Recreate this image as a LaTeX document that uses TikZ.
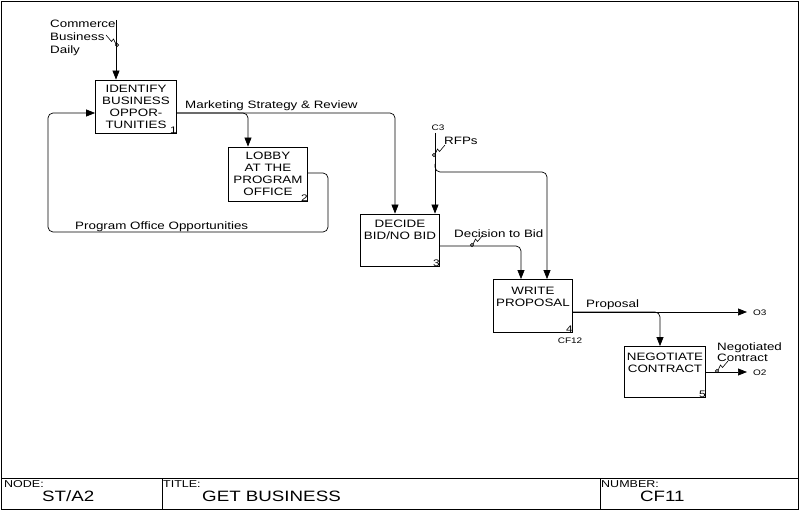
\documentclass[tikz,border=0pt]{standalone}
\usepackage{fontspec}
\setmainfont[FakeStretch=1.25]{Liberation Sans}
\usetikzlibrary{arrows.meta}
\tikzset{
  box/.style={draw, line width=0.8pt, align=center, inner sep=0pt,
    font=\fontsize{10.7}{12}\selectfont},
  lbl/.style={inner sep=0pt, anchor=west, align=left,
    font=\fontsize{10.7}{9.5}\selectfont},
  tiny/.style={inner sep=0pt, font=\fontsize{8}{9}\selectfont},
  num/.style={inner sep=0pt, anchor=south east, font=\fontsize{9.5}{10}\selectfont},
  arr/.style={line width=0.7pt, rounded corners=5, -{Triangle[length=9pt,width=7pt]}},
  squig/.pic={\draw[line width=0.6pt] (0,0) circle (1.6)
    (1.2,-1.2) -- (3.5,-6) -- (5.5,-3.5) -- (11,-10);}
}
\begin{document}
\begin{tikzpicture}[x=1pt, y=-1pt]
\useasboundingbox (0,0) rectangle (800,510);
% frame and title block
\draw[line width=0.9pt] (1.5,1.5) rectangle (798,509);
\draw[line width=0.9pt] (1.5,478) -- (798,478);
\draw[line width=0.9pt] (162,478) -- (162,509) (600,478) -- (600,509);
\node[tiny, anchor=west, font=\fontsize{10}{11}\selectfont] (tn) at (4,484) {NODE:};
\node[tiny, anchor=west, font=\fontsize{10}{11}\selectfont] (tt) at (163,484) {TITLE:};
\node[tiny, anchor=west, font=\fontsize{10}{11}\selectfont] (tr) at (601,484) {NUMBER:};
\node[tiny, anchor=west, font=\fontsize{15}{16}\selectfont] (vn) at (42,496) {ST/A2};
\node[tiny, anchor=west, font=\fontsize{15}{16}\selectfont] (vt) at (202,496) {GET BUSINESS};
\node[tiny, anchor=west, font=\fontsize{15}{16}\selectfont] (vr) at (640,496) {CF11};

% activities
\node[box, minimum width=81, minimum height=53] (b1) at (136,106.5) {IDENTIFY\\BUSINESS\\OPPOR-\\TUNITIES};
\node[box, minimum width=79, minimum height=54] (b2) at (268,174) {LOBBY\\AT THE\\PROGRAM\\OFFICE};
\node[box, minimum width=79, minimum height=52, text depth=20pt] (b3) at (400,240) {DECIDE\\BID/NO BID};
\node[box, minimum width=79, minimum height=53, text depth=18pt] (b4) at (533,306) {WRITE\\PROPOSAL};
\node[box, minimum width=81, minimum height=51, text depth=18pt] (b5) at (665,372) {NEGOTIATE\\CONTRACT};
\node[num] (n1) at (b1.south east) {1};
\node[num] (n2) at (b2.south east) {2};
\node[num] (n3) at (b3.south east) {3};
\node[num] (n4) at (b4.south east) {4};
\node[num] (n5) at (b5.south east) {5};
\node[tiny] (cf12) at (570,341) {CF12};

% rows of the arrows
\coordinate (mrow) at (0,113);
\coordinate (rp) at (328,173);
\coordinate (lp) at (48,232);
\coordinate (drow) at (0,246);
\coordinate (cbd) at (116,20);
\coordinate (c3) at (435,133);
\coordinate (rfb) at (435,172);
\coordinate (o3) at (747,312);
\coordinate (o2) at (747,372);

% connectors
\draw[arr] (cbd) -- (cbd |- b1.north);
\draw[arr] (b1.east |- mrow) -| ([xshift=-5]b3.north);
\draw[arr] (b1.east |- mrow) -| ([xshift=-20]b2.north);
\draw[arr] (b2.east |- rp) -- (rp) |- (lp) |- (b1.west |- mrow);
\draw[arr] (c3) -- (c3 |- b3.north);
\draw[arr] ([yshift=8]rfb) -- (rfb) -| ([xshift=14]b4.north);
\draw[arr] (b3.east |- drow) -| ([xshift=-12]b4.north);
\draw[arr] (b4.east |- o3) -- (o3);
\draw[arr] (b4.east |- o3) -| ([xshift=-5]b5.north);
\draw[arr] (b5.east |- o2) -- (o2);

% squiggles
\pic[xscale=-1] at (117,45) {squig};
\pic at (434,155) {squig};
\pic at (472,245) {squig};
\pic at (717,371) {squig};

% arrow labels
\node[lbl, font=\fontsize{10.7}{12.8}\selectfont] (lcbd) at (50,38) {Commerce\\Business\\Daily};
\node[lbl] (lmk) at (185,106) {Marketing Strategy \& Review};
\node[lbl] (lpo) at (75,227) {Program Office Opportunities};
\node[tiny] (lc3) at (438,128) {C3};
\node[lbl] (lrfp) at (444,141) {RFPs};
\node[lbl] (ldb) at (454,234) {Decision to Bid};
\node[lbl] (lpr) at (586,305) {Proposal};
\node[tiny, anchor=west] (lo3) at (753,313) {O3};
\node[lbl] (lnc) at (717,352) {Negotiated\\Contract};
\node[tiny, anchor=west] (lo2) at (753,373) {O2};
\end{tikzpicture}
\end{document}
